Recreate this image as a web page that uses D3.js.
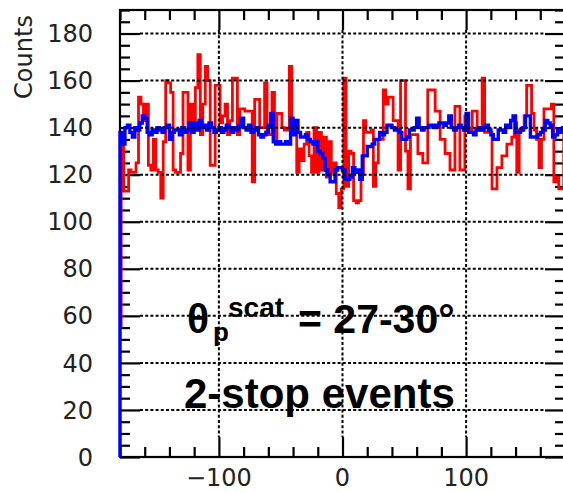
<!DOCTYPE html>
<html>
<head>
<meta charset="utf-8">
<script src="https://cdn.jsdelivr.net/npm/d3@7"></script>
<style>
  html, body { margin: 0; padding: 0; background: #fff; }
  svg { display: block; }
</style>
</head>
<body>
<svg id="chart" width="563" height="493"></svg>
<script>
// ---------- data ----------
const binStart = -180;
const binWidth = 2;
const redStart = 55;
const redCounts = [
  135,113,113,122,121,121,125,153,150,143,
  150,124,122,135,122,121,110,134,160,159,
  155,122,121,121,129,155,155,122,150,140,
  157,171,137,150,166,160,124,124,158,158,
  142,145,150,137,143,161,161,137,148,148,
  147,147,147,117,152,152,140,140,159,137,
  137,155,135,146,146,140,139,139,166,138,
  138,121,131,126,133,138,128,121,140,121,
  138,122,136,119,134,121,125,112,106,114,
  161,115,130,129,109,108,109,120,143,138,
  138,139,115,125,135,135,156,150,153,153,
  143,143,122,160,160,130,114,137,137,137,
  129,129,125,125,156,156,156,147,147,135,
  135,129,129,122,122,149,149,122,122,145,
  139,139,147,147,139,139,161,138,138,138,
  114,114,123,123,128,128,133,133,136,142,
  121,139,139,145,158,158,146,139,135,123,
  135,148,148,148,150,117,119,114,114,137
];
const blueCounts = [
  138,133,140,141,138,136,140,139,142,145,
  144,138,137,139,138,140,139,138,140,141,
  135,138,139,139,137,140,138,139,142,138,
  142,139,143,140,141,139,142,140,138,139,
  140,138,139,141,140,138,140,139,141,144,
  140,139,141,138,139,140,137,136,137,138,
  141,146,134,133,134,133,133,134,133,144,
  137,143,138,136,136,137,135,134,133,134,
  130,129,127,122,120,117,117,122,123,123,
  122,118,118,119,123,121,122,118,128,128,
  132,132,133,135,135,138,137,138,141,141,
  140,139,139,138,135,135,136,139,139,140,
  144,140,139,140,140,141,141,140,141,142,
  142,141,142,145,140,139,140,141,140,139,
  146,138,138,137,139,140,139,140,141,139,
  137,135,135,139,139,138,141,140,143,145,
  138,138,139,140,145,145,136,136,136,137,
  138,139,143,142,141,136,137,139,138,140
];
const xDomain = [-180, 180];
const yDomain = [0, 190];
const xMajorTicks = [-100, 0, 100];
const xTickLabels = ["\u2212100", "0", "100"];
const yMajorTicks = [0, 20, 40, 60, 80, 100, 120, 140, 160, 180];
const yLabel = "Counts";
const line2 = "2-stop events";

// ---------- layout ----------
const svg = d3.select("#chart");
const L = 120, R = 565, T = 10, B = 457;
const x = d3.scaleLinear().domain(xDomain).range([L, R]);
const y = d3.scaleLinear().domain(yDomain).range([B, T]);

svg.append("defs").append("clipPath").attr("id", "clip")
  .append("rect").attr("x", L - 2).attr("y", T - 1).attr("width", R - L + 2).attr("height", B - T + 1);

// ---------- axes (ticks inward), drawn under the data ----------
const majorLen = 20, minorLen = 10;
const yMinor = d3.range(0, 191, 5).filter(v => v % 20 !== 0);
const xMinor = d3.range(-180, 181, 20).filter(v => v % 100 !== 0);

const axL = d3.axisRight(y).tickValues(yMajorTicks).tickSize(majorLen).tickFormat("");
const axLm = d3.axisRight(y).tickValues(yMinor).tickSize(minorLen).tickFormat("");
const axR = d3.axisLeft(y).tickValues(yMajorTicks).tickSize(majorLen).tickFormat("");
const axRm = d3.axisLeft(y).tickValues(yMinor).tickSize(minorLen).tickFormat("");
const axB = d3.axisTop(x).tickValues(xMajorTicks).tickSize(majorLen).tickFormat("");
const axBm = d3.axisTop(x).tickValues(xMinor).tickSize(minorLen).tickFormat("");
const axT = d3.axisBottom(x).tickValues(xMajorTicks).tickSize(majorLen).tickFormat("");
const axTm = d3.axisBottom(x).tickValues(xMinor).tickSize(minorLen).tickFormat("");

function styleAxis(g) {
  g.select(".domain").remove();
  g.selectAll(".tick line").attr("stroke", "#000").attr("stroke-width", 2.2);
}
svg.append("g").attr("transform", `translate(${L},0)`).call(axL).call(styleAxis);
svg.append("g").attr("transform", `translate(${L},0)`).call(axLm).call(styleAxis);
svg.append("g").attr("transform", `translate(${R},0)`).call(axR).call(styleAxis);
svg.append("g").attr("transform", `translate(${R},0)`).call(axRm).call(styleAxis);
svg.append("g").attr("transform", `translate(0,${B})`).call(axB).call(styleAxis);
svg.append("g").attr("transform", `translate(0,${B})`).call(axBm).call(styleAxis);
svg.append("g").attr("transform", `translate(0,${T})`).call(axT).call(styleAxis);
svg.append("g").attr("transform", `translate(0,${T})`).call(axTm).call(styleAxis);

svg.append("rect").attr("x", L).attr("y", T).attr("width", R - L).attr("height", B - T)
  .attr("fill", "none").attr("stroke", "#000").attr("stroke-width", 2.2);

// ---------- data ----------
function stepPoints(counts, startVal) {
  const pts = [[binStart, startVal]];
  counts.forEach((c, i) => pts.push([binStart + i * binWidth, c]));
  pts.push([binStart + counts.length * binWidth, counts[counts.length - 1]]);
  return pts;
}
const stepLine = d3.line().x(d => x(d[0])).y(d => y(d[1])).curve(d3.curveStepAfter);

const dataG = svg.append("g").attr("clip-path", "url(#clip)");
dataG.append("path")
  .attr("d", stepLine(stepPoints(redCounts, redStart)))
  .attr("transform", "translate(1.2,0)")
  .attr("fill", "none").attr("stroke", "#ff0000").attr("stroke-width", 2.8)
  .attr("stroke-linejoin", "miter");
dataG.append("path")
  .attr("d", stepLine(stepPoints(blueCounts, 0)))
  .attr("fill", "none").attr("stroke", "#0000ff").attr("stroke-width", 3.4)
  .attr("stroke-linejoin", "miter");

// ---------- grid (over the data) ----------
const gridG = svg.append("g").attr("stroke", "#000").attr("stroke-width", 2)
  .attr("stroke-dasharray", "3,2.2");
yMajorTicks.filter(v => v > 0).forEach(v => {
  gridG.append("line").attr("x1", L + majorLen).attr("x2", R - majorLen).attr("y1", y(v)).attr("y2", y(v));
});
xMajorTicks.forEach(v => {
  gridG.append("line").attr("x1", x(v)).attr("x2", x(v)).attr("y1", T + majorLen).attr("y2", B - majorLen);
});

// ---------- tick labels ----------
const labelFont = "'DejaVu Sans', Verdana, sans-serif";
svg.append("g").selectAll("text").data(yMajorTicks).join("text")
  .attr("x", 93).attr("y", d => y(d)).attr("dy", "0.36em")
  .attr("text-anchor", "end").attr("font-family", labelFont).attr("font-size", 24)
  .attr("fill", "#222").text(d => d);
svg.append("g").selectAll("text").data(xMajorTicks).join("text")
  .attr("x", d => x(d)).attr("y", 486)
  .attr("text-anchor", "middle").attr("font-family", labelFont).attr("font-size", 24)
  .attr("fill", "#222").text((d, i) => xTickLabels[i]);

svg.append("text")
  .attr("transform", "translate(32,57) rotate(-90)")
  .attr("text-anchor", "middle").attr("font-family", labelFont).attr("font-size", 24)
  .attr("fill", "#222").text(yLabel);

// ---------- annotations ----------
const annFont = "'Liberation Sans', Arial, Helvetica, sans-serif";
const ann = svg.append("g").attr("font-family", annFont).attr("font-weight", "bold").attr("fill", "#000");
ann.append("text").attr("x", 187).attr("y", 333).attr("font-size", 41).text("\u03B8");
ann.append("text").attr("x", 213).attr("y", 341).attr("font-size", 26).text("p");
ann.append("text").attr("x", 228).attr("y", 317).attr("font-size", 28).text("scat");
ann.append("text").attr("x", 298).attr("y", 333).attr("font-size", 41).text("= 27-30\u00B0");
ann.append("text").attr("x", 184).attr("y", 408).attr("font-size", 42).text(line2);
</script>
</body>
</html>
